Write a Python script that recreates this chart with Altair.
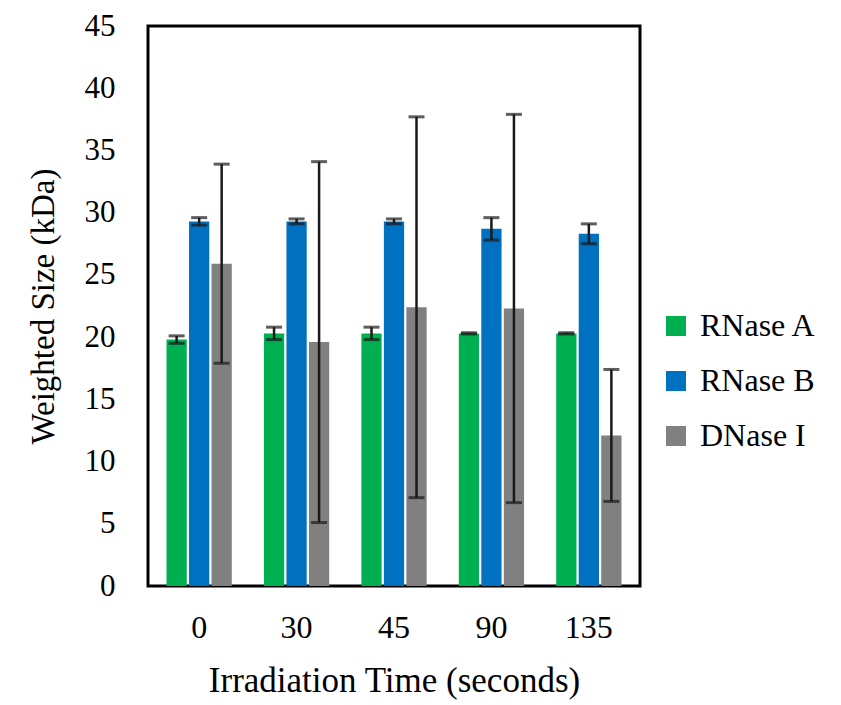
import altair as alt
import pandas as pd

times = ["0", "30", "45", "90", "135"]
series = ["RNase A", "RNase B", "DNase I"]
rnase_a = [19.8, 20.3, 20.3, 20.3, 20.3]
rnase_a_err = [0.3, 0.5, 0.5, 0.05, 0.05]
rnase_b = [29.3, 29.3, 29.3, 28.7, 28.3]
rnase_b_err = [0.3, 0.2, 0.2, 0.9, 0.8]
dnase = [25.9, 19.6, 22.4, 22.3, 12.1]
dnase_err = [8.0, 14.5, 15.3, 15.6, 5.3]
colors = ["#00B050", "#0070C0", "#808080"]

rows = []
for s, vals, errs in [("RNase A", rnase_a, rnase_a_err), ("RNase B", rnase_b, rnase_b_err), ("DNase I", dnase, dnase_err)]:
    for t, v, e in zip(times, vals, errs):
        rows.append({"time": t, "series": s, "value": v, "lo": v - e, "hi": v + e})
df = pd.DataFrame(rows)

FONT = "Liberation Serif"

x = alt.X("time:N", sort=times, title="Irradiation Time (seconds)",
          scale=alt.Scale(paddingInner=0.33, paddingOuter=0.19),
          axis=alt.Axis(labelAngle=0, ticks=False, domain=False, labelPadding=26,
                        labelFontSize=32, titleFontSize=35, titlePadding=20,
                        labelFont=FONT, titleFont=FONT, labelColor="black", titleColor="black",
                        titleFontWeight="normal"))
xo = alt.XOffset("series:N", sort=series, scale=alt.Scale(paddingInner=0.1))
y = alt.Y("value:Q", title="Weighted Size (kDa)",
          scale=alt.Scale(domain=[0, 45], nice=False),
          axis=alt.Axis(values=list(range(0, 50, 5)), ticks=False, domain=False, grid=False,
                        labelPadding=33, labelFontSize=31, titleFontSize=33, titlePadding=24,
                        labelFont=FONT, titleFont=FONT, labelColor="black", titleColor="black",
                        titleFontWeight="normal"))

base = alt.Chart(df)
bars = base.mark_bar().encode(
    x=x, xOffset=xo, y=y,
    color=alt.Color("series:N", sort=series, scale=alt.Scale(domain=series, range=colors),
                    legend=alt.Legend(title=None, orient="none", legendX=512, legendY=284,
                                      symbolType="square", symbolSize=400, symbolStrokeWidth=0,
                                      labelFontSize=32, labelFont=FONT, labelColor="black",
                                      rowPadding=23, labelOffset=8)),
)
rule = base.mark_rule(color="#1a1a1a", strokeWidth=2.5).encode(
    x=alt.X("time:N", sort=times), xOffset=xo, y="lo:Q", y2="hi:Q")
cap_hi = base.mark_tick(color="#1a1a1a", thickness=3, size=16, orient="horizontal").encode(
    x=alt.X("time:N", sort=times), xOffset=xo, y="hi:Q")
cap_lo = base.mark_tick(color="#1a1a1a", thickness=3, size=16, orient="horizontal").encode(
    x=alt.X("time:N", sort=times), xOffset=xo, y="lo:Q")

chart = alt.layer(bars, rule, cap_hi, cap_lo).properties(
    width=492, height=560, autosize="none", background="white",
    padding={"left": 140, "top": 18, "right": 190, "bottom": 118},
).configure_view(stroke="black", strokeWidth=3)

chart.save("out.html", embed_options={"renderer": "svg", "actions": False})
